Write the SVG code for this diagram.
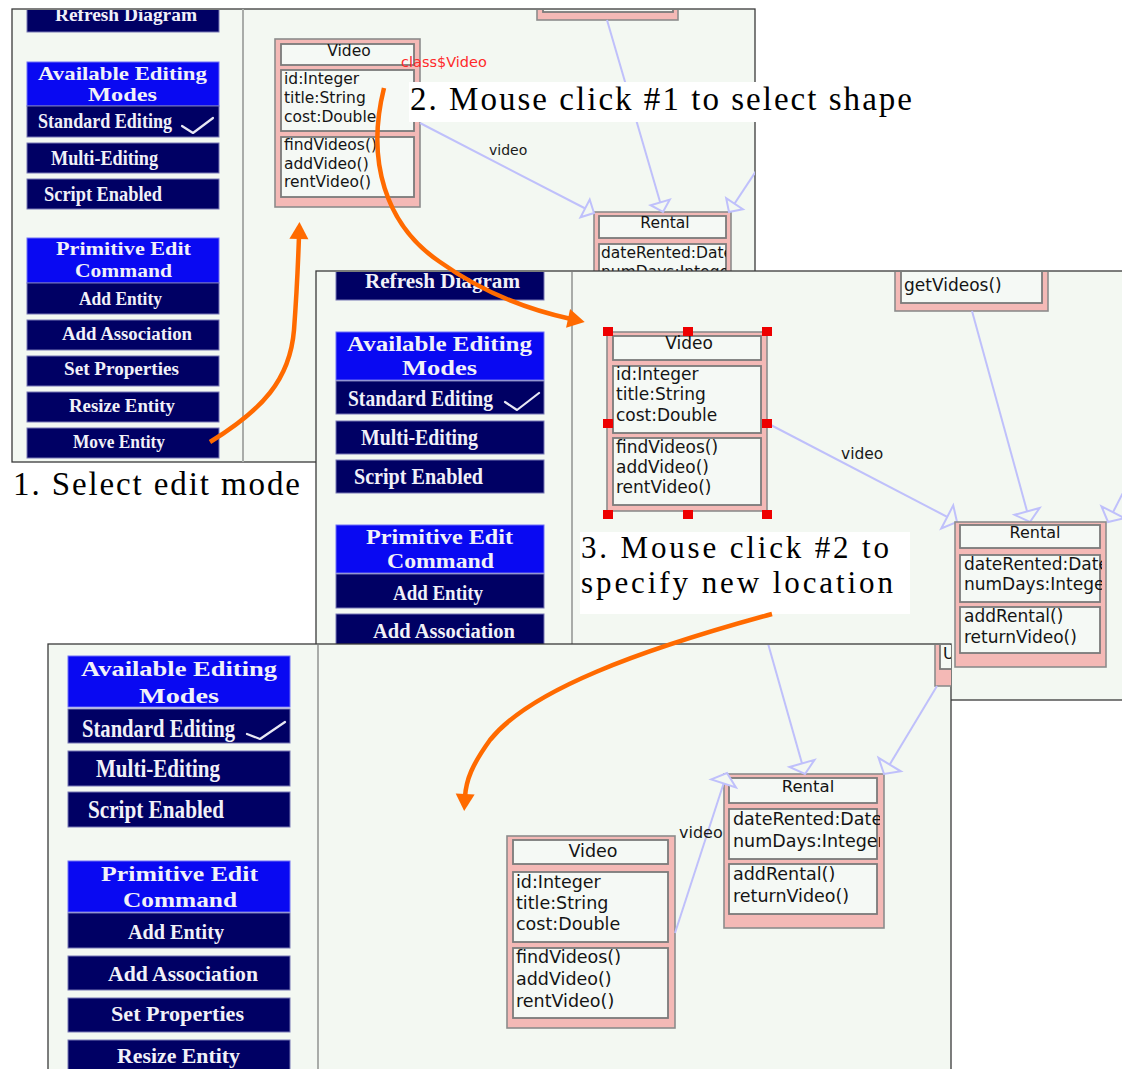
<svg xmlns="http://www.w3.org/2000/svg" width="1122" height="1069" viewBox="0 0 1122 1069">
<style>
.frame{fill:#f3f8f2;stroke:#3a3a3a;stroke-width:1.3}
.divider{stroke:#a9aca9;stroke-width:2}
.btn{fill:#000064;stroke:#7777b4;stroke-width:1}
.hdr{fill:#0909f2;stroke:#7070f5;stroke-width:1}
.bt{font-family:"Liberation Serif","Times New Roman",serif;font-weight:bold;fill:#f1f1f8}
.chk{fill:none;stroke:#e8e8f4;stroke-width:2.2;stroke-linecap:round;stroke-linejoin:round}
.cls{fill:#f4b9b6;stroke:#8c8c8c;stroke-width:1.6}
.cmp{fill:#f5f9f5;stroke:#7b7b7b;stroke-width:1.8}
.ct{font-family:"DejaVu Sans","Liberation Sans",sans-serif;fill:#141414}
.ctc{text-anchor:middle}
.link{fill:none;stroke:#bfc0fb;stroke-width:2}
.head{fill:#f3f8f2;stroke:#bfc0fb;stroke-width:2}
.lbl{font-family:"DejaVu Sans","Liberation Sans",sans-serif;fill:#1a1a1a}
.handle{fill:#ee0000}
.note-bg{fill:#ffffff}
.note{font-family:"Liberation Serif","Times New Roman",serif;fill:#000}
.orange{fill:none;stroke:#ff6a00;stroke-width:4.5}
</style>
<defs>
  <marker id="tri" viewBox="-2 -15 15 30" markerWidth="15" markerHeight="30" refX="11" refY="0" orient="auto" markerUnits="userSpaceOnUse" overflow="visible">
    <path class="head" d="M0,-13 L11,0 L0,13 Z"/>
  </marker>
  <marker id="tri-s" viewBox="-2 -12 13 24" markerWidth="13" markerHeight="24" refX="10" refY="0" orient="auto" markerUnits="userSpaceOnUse" overflow="visible">
    <path class="head" d="M0,-10 L10,0 L0,10 Z"/>
  </marker>
  <marker id="oarrow" viewBox="0 -10 17 20" markerWidth="17" markerHeight="20" refX="3" refY="0" orient="auto" markerUnits="userSpaceOnUse" overflow="visible">
    <path d="M0,-9.5 L17,0 L0,9.5 Z" fill="#ff6a00"/>
  </marker>
  <clipPath id="clip-p1"><rect x="13" y="10" width="742" height="452"/></clipPath>
  <clipPath id="clip-p2"><rect x="317" y="272" width="805" height="428"/></clipPath>
  <clipPath id="clip-p3"><rect x="49" y="645" width="902" height="424"/></clipPath>
  <clipPath id="clip-r1"><rect x="599" y="212" width="127" height="100"/></clipPath>
  <clipPath id="clip-r2"><rect x="960" y="520" width="142" height="150"/></clipPath>
  <clipPath id="clip-r3"><rect x="729" y="770" width="151" height="160"/></clipPath>
</defs>

<rect x="0" y="0" width="1122" height="1069" fill="#ffffff"/>

<!-- ===== First screen: choosing the edit mode ===== -->
<g id="panel-1">
  <rect class="frame" x="12" y="9" width="743" height="453"/>
  <line class="divider" x1="243" y1="9" x2="243" y2="462"/>
  <g clip-path="url(#clip-p1)">
    <g id="p1-refresh"><rect class="btn" x="27" y="0" width="192" height="32"/><text class="bt" x="55" y="21" font-size="18" textLength="142" lengthAdjust="spacingAndGlyphs">Refresh Diagram</text></g>
    <g id="p1-modes-header"><rect class="hdr" x="27" y="62" width="192" height="44"/><text class="bt" x="38" y="80" font-size="19.5" textLength="169" lengthAdjust="spacingAndGlyphs">Available Editing</text><text class="bt" x="88" y="101" font-size="19.5" textLength="69" lengthAdjust="spacingAndGlyphs">Modes</text></g>
    <g id="p1-standard"><rect class="btn" x="27" y="106" width="192" height="31"/><text class="bt" x="38" y="128" font-size="21" textLength="134" lengthAdjust="spacingAndGlyphs">Standard Editing</text><polyline class="chk" points="182,126 193,133 213,118"/></g>
    <g id="p1-multi"><rect class="btn" x="27" y="143" width="192" height="30"/><text class="bt" x="51" y="165" font-size="21" textLength="107" lengthAdjust="spacingAndGlyphs">Multi-Editing</text></g>
    <g id="p1-script"><rect class="btn" x="27" y="179" width="192" height="30"/><text class="bt" x="44" y="201" font-size="21" textLength="118" lengthAdjust="spacingAndGlyphs">Script Enabled</text></g>
    <g id="p1-command-header"><rect class="hdr" x="27" y="238" width="192" height="45"/><text class="bt" x="56" y="255" font-size="19.5" textLength="135" lengthAdjust="spacingAndGlyphs">Primitive Edit</text><text class="bt" x="75" y="277" font-size="19.5" textLength="97" lengthAdjust="spacingAndGlyphs">Command</text></g>
    <g id="p1-add-entity"><rect class="btn" x="27" y="283" width="192" height="31"/><text class="bt" x="79" y="305" font-size="18" textLength="83" lengthAdjust="spacingAndGlyphs">Add Entity</text></g>
    <g id="p1-add-assoc"><rect class="btn" x="27" y="320" width="192" height="30"/><text class="bt" x="62" y="340" font-size="18" textLength="130" lengthAdjust="spacingAndGlyphs">Add Association</text></g>
    <g id="p1-set-props"><rect class="btn" x="27" y="356" width="192" height="30"/><text class="bt" x="64" y="375" font-size="18" textLength="115" lengthAdjust="spacingAndGlyphs">Set Properties</text></g>
    <g id="p1-resize"><rect class="btn" x="27" y="392" width="192" height="30"/><text class="bt" x="69" y="412" font-size="18" textLength="106" lengthAdjust="spacingAndGlyphs">Resize Entity</text></g>
    <g id="p1-move"><rect class="btn" x="27" y="428" width="192" height="30"/><text class="bt" x="73" y="448" font-size="18" textLength="92" lengthAdjust="spacingAndGlyphs">Move Entity</text></g>

    <g id="p1-top-class"><rect class="cls" x="537" y="-6" width="141" height="26"/><rect class="cmp" x="543" y="-6" width="130" height="18"/></g>

    <g id="p1-video" font-size="15.5">
      <rect class="cls" x="275" y="39" width="145" height="168"/>
      <rect class="cmp" x="281" y="44" width="133" height="21"/>
      <rect class="cmp" x="281" y="70" width="133" height="61"/>
      <rect class="cmp" x="281" y="137" width="133" height="60"/>
      <text class="ct ctc" x="349" y="56">Video</text>
      <text class="ct" x="284" y="84">id:Integer</text>
      <text class="ct" x="284" y="103">title:String</text>
      <text class="ct" x="284" y="122">cost:Double</text>
      <text class="ct" x="284" y="150">findVideos()</text>
      <text class="ct" x="284" y="168.5">addVideo()</text>
      <text class="ct" x="284" y="187">rentVideo()</text>
    </g>
    <text class="lbl" x="401" y="67" font-size="14.5" style="fill:#ff2a2a">class$Video</text>

    <g id="p1-rental" font-size="15.5">
      <rect class="cls" x="594" y="212" width="137" height="100"/>
      <rect class="cmp" x="599" y="216" width="127" height="22"/>
      <rect class="cmp" x="599" y="244" width="127" height="60"/>
      <text class="ct ctc" x="665" y="228">Rental</text>
      <g clip-path="url(#clip-r1)">
        <text class="ct" x="601" y="258">dateRented:Date</text>
        <text class="ct" x="601" y="277">numDays:Integer</text>
      </g>
    </g>

    <g id="p1-connectors">
      <path class="link" d="M607,20 L663,212" marker-end="url(#tri-s)"/>
      <path class="link" d="M770,150 L729,212" marker-end="url(#tri-s)"/>
      <path class="link" d="M420,123 L594,213" marker-end="url(#tri-s)"/>
      <text class="lbl" x="489" y="155" font-size="14">video</text>
    </g>
  </g>
</g>

<g id="note-1">
  <text class="note" x="13" y="495" font-size="33" textLength="287" lengthAdjust="spacing">1. Select edit mode</text>
</g>
<g id="note-2">
  <rect class="note-bg" x="409" y="82" width="506" height="40"/>
  <text class="note" x="410" y="110" font-size="33" textLength="502" lengthAdjust="spacing">2. Mouse click #1 to select shape</text>
</g>

<!-- ===== Second screen: shape selected ===== -->
<g id="panel-2">
  <rect class="frame" x="316" y="271" width="820" height="429"/>
  <line class="divider" x1="572" y1="272" x2="572" y2="700"/>
  <g clip-path="url(#clip-p2)">
    <g id="p2-refresh"><rect class="btn" x="336" y="262" width="208" height="38"/><text class="bt" x="365" y="288" font-size="20" textLength="155" lengthAdjust="spacingAndGlyphs">Refresh Diagram</text></g>
    <g id="p2-modes-header"><rect class="hdr" x="336" y="332" width="208" height="48"/><text class="bt" x="347" y="351" font-size="21" textLength="185" lengthAdjust="spacingAndGlyphs">Available Editing</text><text class="bt" x="402" y="375" font-size="21" textLength="75" lengthAdjust="spacingAndGlyphs">Modes</text></g>
    <g id="p2-standard"><rect class="btn" x="336" y="381" width="208" height="33"/><text class="bt" x="348" y="406" font-size="23" textLength="145" lengthAdjust="spacingAndGlyphs">Standard Editing</text><polyline class="chk" points="505,402 517,410 539,393"/></g>
    <g id="p2-multi"><rect class="btn" x="336" y="421" width="208" height="33"/><text class="bt" x="361" y="445" font-size="23" textLength="117" lengthAdjust="spacingAndGlyphs">Multi-Editing</text></g>
    <g id="p2-script"><rect class="btn" x="336" y="460" width="208" height="33"/><text class="bt" x="354" y="484" font-size="23" textLength="129" lengthAdjust="spacingAndGlyphs">Script Enabled</text></g>
    <g id="p2-command-header"><rect class="hdr" x="336" y="525" width="208" height="48"/><text class="bt" x="366" y="544" font-size="21" textLength="147" lengthAdjust="spacingAndGlyphs">Primitive Edit</text><text class="bt" x="387" y="568" font-size="21" textLength="107" lengthAdjust="spacingAndGlyphs">Command</text></g>
    <g id="p2-add-entity"><rect class="btn" x="336" y="574" width="208" height="34"/><text class="bt" x="393" y="600" font-size="20" textLength="90" lengthAdjust="spacingAndGlyphs">Add Entity</text></g>
    <g id="p2-add-assoc"><rect class="btn" x="336" y="614" width="208" height="36"/><text class="bt" x="373" y="638" font-size="20" textLength="142" lengthAdjust="spacingAndGlyphs">Add Association</text></g>

    <g id="p2-top-class" font-size="17">
      <rect class="cls" x="895" y="250" width="153" height="61"/>
      <rect class="cmp" x="901" y="250" width="141" height="53"/>
      <text class="ct" x="904" y="291">getVideos()</text>
    </g>

    <g id="p2-connectors">
      <path class="link" d="M972,311 L1030,522" marker-end="url(#tri)"/>
      <path class="link" d="M1150,440 L1108,522" marker-end="url(#tri)"/>
      <path class="link" d="M767,423 L957,522" marker-end="url(#tri)"/>
      <text class="lbl" x="841" y="459" font-size="15.5">video</text>
    </g>

    <g id="p2-video" font-size="17">
      <rect class="cls" x="607" y="332" width="160" height="179"/>
      <rect class="cmp" x="613" y="336" width="148" height="24"/>
      <rect class="cmp" x="613" y="366" width="148" height="67"/>
      <rect class="cmp" x="613" y="438" width="148" height="67"/>
      <text class="ct ctc" x="689" y="349">Video</text>
      <text class="ct" x="616" y="380">id:Integer</text>
      <text class="ct" x="616" y="400">title:String</text>
      <text class="ct" x="616" y="421">cost:Double</text>
      <text class="ct" x="616" y="453">findVideos()</text>
      <text class="ct" x="616" y="473">addVideo()</text>
      <text class="ct" x="616" y="493">rentVideo()</text>
      <g id="p2-video-handles">
        <rect class="handle" x="603" y="327" width="10" height="9"/>
        <rect class="handle" x="683" y="327" width="10" height="9"/>
        <rect class="handle" x="762" y="327" width="10" height="9"/>
        <rect class="handle" x="603" y="419" width="10" height="9"/>
        <rect class="handle" x="762" y="419" width="10" height="9"/>
        <rect class="handle" x="603" y="510" width="10" height="9"/>
        <rect class="handle" x="683" y="510" width="10" height="9"/>
        <rect class="handle" x="762" y="510" width="10" height="9"/>
      </g>
    </g>

    <g id="p2-rental" font-size="17">
      <rect class="cls" x="955" y="522" width="151" height="145"/>
      <rect class="cmp" x="960" y="525" width="140" height="23"/>
      <rect class="cmp" x="960" y="555" width="140" height="47"/>
      <rect class="cmp" x="960" y="607" width="140" height="46"/>
      <text class="ct ctc" x="1035" y="538" font-size="16">Rental</text>
      <g clip-path="url(#clip-r2)">
        <text class="ct" x="964" y="570">dateRented:Date</text>
        <text class="ct" x="964" y="590">numDays:Integer</text>
      </g>
      <text class="ct" x="964" y="622">addRental()</text>
      <text class="ct" x="964" y="643">returnVideo()</text>
    </g>
  </g>
</g>

<g id="note-3">
  <rect class="note-bg" x="580" y="532" width="330" height="82"/>
  <text class="note" x="581" y="558" font-size="31" textLength="308" lengthAdjust="spacing">3. Mouse click #2 to</text>
  <text class="note" x="581" y="593" font-size="31" textLength="312" lengthAdjust="spacing">specify new location</text>
</g>

<!-- ===== Third screen: shape moved ===== -->
<g id="panel-3">
  <rect class="frame" x="48" y="644" width="903" height="440"/>
  <line class="divider" x1="318" y1="645" x2="318" y2="1069"/>
  <g clip-path="url(#clip-p3)">
    <g id="p3-modes-header"><rect class="hdr" x="68" y="656" width="222" height="51"/><text class="bt" x="81" y="676" font-size="22" textLength="196" lengthAdjust="spacingAndGlyphs">Available Editing</text><text class="bt" x="139" y="703" font-size="22" textLength="80" lengthAdjust="spacingAndGlyphs">Modes</text></g>
    <g id="p3-standard"><rect class="btn" x="68" y="709" width="222" height="34"/><text class="bt" x="82" y="737" font-size="25" textLength="153" lengthAdjust="spacingAndGlyphs">Standard Editing</text><polyline class="chk" points="247,734 260,739 285,722"/></g>
    <g id="p3-multi"><rect class="btn" x="68" y="751" width="222" height="35"/><text class="bt" x="96" y="777" font-size="25" textLength="124" lengthAdjust="spacingAndGlyphs">Multi-Editing</text></g>
    <g id="p3-script"><rect class="btn" x="68" y="792" width="222" height="35"/><text class="bt" x="88" y="818" font-size="25" textLength="136" lengthAdjust="spacingAndGlyphs">Script Enabled</text></g>
    <g id="p3-command-header"><rect class="hdr" x="68" y="861" width="222" height="51"/><text class="bt" x="101" y="881" font-size="22" textLength="157" lengthAdjust="spacingAndGlyphs">Primitive Edit</text><text class="bt" x="123" y="907" font-size="22" textLength="114" lengthAdjust="spacingAndGlyphs">Command</text></g>
    <g id="p3-add-entity"><rect class="btn" x="68" y="913" width="222" height="35"/><text class="bt" x="128" y="939" font-size="21" textLength="96" lengthAdjust="spacingAndGlyphs">Add Entity</text></g>
    <g id="p3-add-assoc"><rect class="btn" x="68" y="956" width="222" height="34"/><text class="bt" x="108" y="981" font-size="21" textLength="150" lengthAdjust="spacingAndGlyphs">Add Association</text></g>
    <g id="p3-set-props"><rect class="btn" x="68" y="998" width="222" height="34"/><text class="bt" x="111" y="1021" font-size="21" textLength="133" lengthAdjust="spacingAndGlyphs">Set Properties</text></g>
    <g id="p3-resize"><rect class="btn" x="68" y="1040" width="222" height="40"/><text class="bt" x="117" y="1063" font-size="21" textLength="123" lengthAdjust="spacingAndGlyphs">Resize Entity</text></g>

    <g id="p3-edge-class" font-size="16">
      <rect class="cls" x="935" y="630" width="30" height="56"/>
      <rect class="cmp" x="940" y="630" width="20" height="39"/>
      <text class="ct" x="943" y="659">U</text>
    </g>

    <g id="p3-video" font-size="17.5">
      <rect class="cls" x="507" y="836" width="168" height="192"/>
      <rect class="cmp" x="513" y="840" width="155" height="24"/>
      <rect class="cmp" x="513" y="872" width="155" height="70"/>
      <rect class="cmp" x="513" y="948" width="155" height="70"/>
      <text class="ct ctc" x="593" y="857">Video</text>
      <text class="ct" x="516" y="888">id:Integer</text>
      <text class="ct" x="516" y="909">title:String</text>
      <text class="ct" x="516" y="930">cost:Double</text>
      <text class="ct" x="516" y="963">findVideos()</text>
      <text class="ct" x="516" y="985">addVideo()</text>
      <text class="ct" x="516" y="1007">rentVideo()</text>
    </g>

    <g id="p3-rental" font-size="17.5">
      <rect class="cls" x="724" y="774" width="160" height="154"/>
      <rect class="cmp" x="729" y="778" width="148" height="25"/>
      <rect class="cmp" x="729" y="809" width="148" height="50"/>
      <rect class="cmp" x="729" y="864" width="148" height="50"/>
      <text class="ct ctc" x="808" y="792" font-size="16.5">Rental</text>
      <g clip-path="url(#clip-r3)">
        <text class="ct" x="733" y="825">dateRented:Date</text>
        <text class="ct" x="733" y="847">numDays:Integer</text>
      </g>
      <text class="ct" x="733" y="880">addRental()</text>
      <text class="ct" x="733" y="902">returnVideo()</text>
    </g>

    <g id="p3-connectors">
      <path class="link" d="M767,640 L805,774" marker-end="url(#tri)"/>
      <path class="link" d="M937,686 L884,774" marker-end="url(#tri)"/>
      <path class="link" d="M675,933 L727,773" marker-end="url(#tri)"/>
      <text class="lbl" x="679" y="838" font-size="16">video</text>
    </g>
  </g>
</g>

<!-- orange step arrows drawn over the screens -->
<g id="step-arrows">
  <path class="orange" d="M210,442 C262,410 290,380 294,330 C297,290 298,265 299,236" marker-end="url(#oarrow)"/>
  <path class="orange" d="M384,88 C366,160 385,225 440,262 C475,287 520,308 571,319" marker-end="url(#oarrow)"/>
  <path class="orange" d="M772,614 C640,650 530,690 490,740 C472,765 466,780 465,797" marker-end="url(#oarrow)"/>
</g>
</svg>
